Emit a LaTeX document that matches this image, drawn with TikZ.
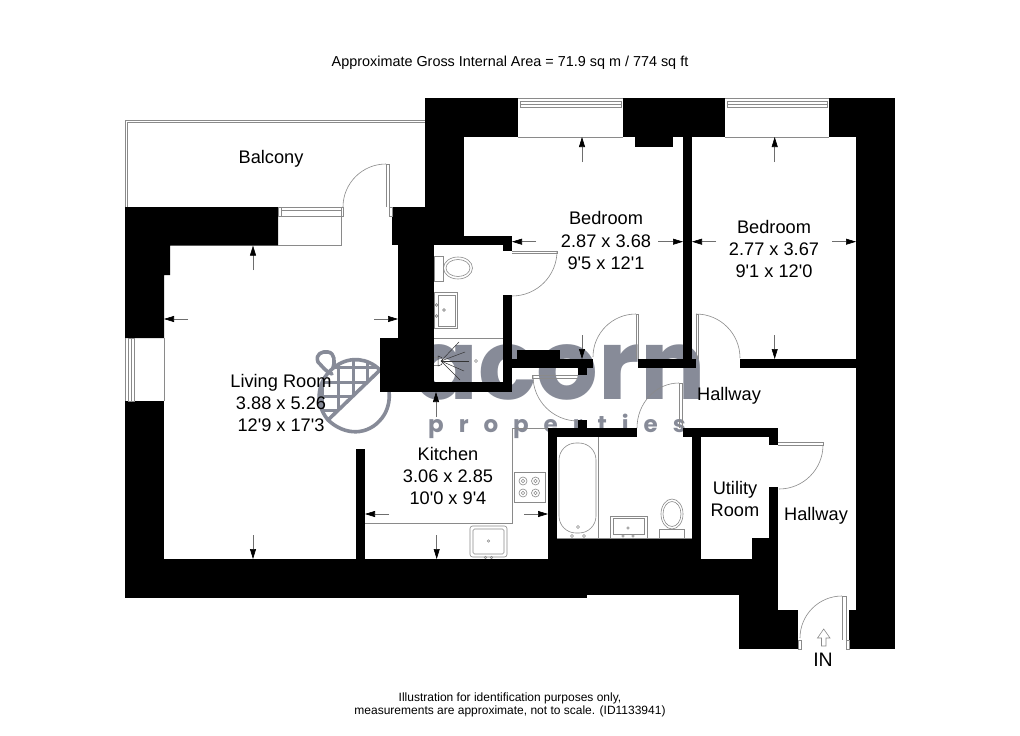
\documentclass[tikz,border=0pt]{standalone}
\usepackage{fontspec}
\setmainfont{Liberation Sans}[Ligatures=TeXOff]
\newfontfamily\logofont{Poppins}
\usetikzlibrary{arrows.meta}
\definecolor{logogrey}{HTML}{878B98}
\definecolor{fixgrey}{HTML}{8A8A8A}
\tikzset{
  wall/.style={fill=black,draw=none},
  fine/.style={draw=fixgrey,line width=0.8pt},
  thinline/.style={draw=fixgrey,line width=0.6pt},
  dark/.style={draw=black!80,line width=0.5pt},
  dimarrow/.style={draw=fixgrey!80!black,line width=0.6pt,-{Triangle[length=10pt,width=6pt,color=black]}},
  roomlabel/.style={align=center,font=\fontsize{18.2}{22.4}\selectfont,inner sep=0pt},
  smalllabel/.style={align=center,font=\fontsize{14.4}{15}\selectfont,inner sep=0pt},
  logostroke/.style={draw=logogrey,line width=3.6pt,line join=round,line cap=round}
}
\begin{document}
\begin{tikzpicture}[x=1pt,y=-1pt]
\useasboundingbox (0,0) rectangle (1020,736);
\fill[white] (0,0) rectangle (1020,736);

% --- logo (beneath everything)
\path[logostroke] (328,420) .. controls (313,402) and (318,378) .. (336,366) .. controls (350,356) and (368,358) .. (380,370) -- cycle;
\begin{scope}
  \clip (328,420) .. controls (313,402) and (318,378) .. (336,366) .. controls (350,356) and (368,358) .. (380,370) -- cycle;
  \foreach \lx in {322,338,353,367}{\draw[logostroke,line width=3pt] (\lx,350) -- (\lx,425);}
  \foreach \ly in {367,382,396,410}{\draw[logostroke,line width=3pt] (310,\ly) -- (385,\ly);}
\end{scope}
\path[logostroke] (380,370) .. controls (392,385) and (392,405) .. (382,418) .. controls (368,436) and (345,436) .. (328,420);
\path[logostroke] (332,374) .. controls (326,372) and (322,366) .. (318,362) .. controls (315,354) and (322,351) .. (328,352) .. controls (335,353) and (335,362) .. (333,368);
\node[text=logogrey,anchor=base west,inner sep=0pt] (logoword) at (412,399)
  {\logofont\bfseries\fontsize{97}{97}\selectfont acorn};
\node[text=logogrey,anchor=base west,inner sep=0pt] (logosub) at (428,432)
  {\logofont\bfseries\addfontfeature{LetterSpace=65}\fontsize{23}{23}\selectfont properties};

% --- walls
\fill[wall] (125,207) -- (278,207) -- (278,245.6) -- (170,245.6) -- (170,275) -- (164,275) -- (164,338) -- (125,338) -- cycle;
\fill[wall] (125,401) rectangle (164,559);
\fill[wall] (125,559) rectangle (587,598);
\fill[wall] (587,559) rectangle (778,595);
\fill[wall] (739,595) rectangle (778,610);
\fill[wall] (739,610) rectangle (798,649);
\fill[wall] (769,487) rectangle (778,559);
\fill[wall] (752,538) rectangle (769,559);
\fill[wall] (692,428) rectangle (701,559);
\fill[wall] (548,428) rectangle (557,559);
\fill[wall] (548,538) rectangle (701,559);
\fill[wall] (548,428) rectangle (637,437);
\fill[wall] (578,420) rectangle (587,428);
\fill[wall] (683,428) rectangle (778,437);
\fill[wall] (769,437) rectangle (778,445);
\fill[wall] (380,338) rectangle (434,392);
\fill[wall] (398,245) rectangle (434,338);
\fill[wall] (392,207) rectangle (464,245);
\fill[wall] (425,98) rectangle (464,207);
\fill[wall] (425,98) rectangle (518,137);
\fill[wall] (464,236) rectangle (512,245);
\fill[wall] (503,245) rectangle (512,251);
\fill[wall] (503,295) rectangle (512,392);
\fill[wall] (434,382) rectangle (512,392);
\fill[wall] (623,98) rectangle (725,137);
\fill[wall] (635,137) rectangle (673,147);
\fill[wall] (829,98) rectangle (895,137);
\fill[wall] (683,137) rectangle (692,368);
\fill[wall] (856,137) rectangle (895,610);
\fill[wall] (849,610) rectangle (895,649);
\fill[wall] (512,359) rectangle (593,368);
\fill[wall] (517,350) rectangle (560,359);
\fill[wall] (578,368) rectangle (587,375);
\fill[wall] (638,359) rectangle (696,368);
\fill[wall] (740,359) rectangle (856,368);
\fill[wall] (356,449) rectangle (365,559);

% --- balcony rail
\draw[fine] (125,207) -- (125,120) -- (425,120);
\draw[fine] (127.5,207) -- (127.5,122.5) -- (425,122.5);

% --- windows
\draw[fine] (518,98) -- (623,98);
\draw[thinline] (520,101) rectangle (621,107) (520,104) -- (621,104);
\draw[fine] (518,137) -- (623,137);
\draw[fine] (725,98) -- (829,98);
\draw[thinline] (727,101) rectangle (827,107) (727,104) -- (827,104);
\draw[fine] (725,137) -- (829,137);
\draw[fine] (125,338) -- (125,401) (164,338) -- (164,401);
\draw[thinline] (128,338) rectangle (134,401) (131,338) -- (131,401);
\draw[fine] (278,207) -- (343,207) (278,245.6) -- (341,245.6) -- (341,207);
\draw[thinline] (278,207) rectangle (343,216) (281,210) -- (341,210) (281,207) -- (281,216);

% --- doors
\draw[thinline] (386,207) -- (386,164) -- (389,164) -- (389,207) (389,207) rectangle (392,216);
\draw[thinline] (386,164) arc[start angle=-90,end angle=-180,radius=43];
\draw[thinline] (512,251) -- (557,251) -- (557,253) -- (512,253);
\draw[thinline] (557,251) arc[start angle=0,end angle=90,radius=45];
\draw[thinline] (636,359) -- (636,314) -- (638,314) -- (638,359);
\draw[thinline] (636,314) arc[start angle=-90,end angle=-180,radius=43];
\draw[thinline] (696,359) -- (696,314) -- (698,314) -- (698,359);
\draw[thinline] (696,314) arc[start angle=-90,end angle=0,radius=44];
\draw[thinline] (578,375) -- (532,375) -- (532,378) -- (578,378);
\draw[thinline] (533,376) arc[start angle=180,end angle=90,radius=45];
\draw[thinline] (682,428) -- (682,383) -- (679,383) -- (679,428);
\draw[thinline] (679,383) arc[start angle=-90,end angle=-180,x radius=42,y radius=45];
\draw[thinline] (778,442) -- (823,442) -- (823,445) -- (778,445);
\draw[thinline] (823,445) arc[start angle=0,end angle=90,radius=44];
\draw[thinline] (846,640) -- (846,596) -- (842,596) -- (842,640);
\draw[thinline] (842,596) arc[start angle=-90,end angle=-180,radius=42];
\draw[thinline] (798,640) rectangle (801,649);
\draw[thinline] (846,640) rectangle (849,649);
\draw[thinline] (817.5,638) -- (823.7,629) -- (830,638) -- (826,638) -- (826,646) -- (821.5,646) -- (821.5,638) -- cycle;

% --- en-suite fixtures
\draw[thinline] (434,338) -- (503,338);
\draw[thinline] (434,256) rectangle (443,281);
\draw[thinline] (458,268) ellipse[x radius=14.5,y radius=11];
\draw[thinline] (458,268) ellipse[x radius=12,y radius=8.5];
\draw[thinline] (434,292) rectangle (457,328);
\draw[thinline] (438,295) rectangle (455,326);
\draw[thinline] (436.5,305) circle[radius=1.4] (436.5,316) circle[radius=1.4] (444,310) circle[radius=1.4];
\draw[thinline] (476,361) circle[radius=1.5];
\draw[thinline] (434,357) -- (438,357) (434,365) -- (438,365);
\draw[dark] (438,356) arc[start angle=-90,end angle=90,radius=5] -- cycle;
\foreach \rx/\ry in {459/342,465/352,469/361,464/371,460/380}{\draw[dark] (441,361) -- (\rx,\ry);}

% --- kitchen
\draw[fine] (548,428) -- (512,428) -- (512,523) -- (365,523);
\draw[thinline] (514,472) rectangle (545,502);
\foreach \bx/\by in {523/481,535.5/481,523/493,535.5/493}{
  \draw[thinline] (\bx,\by) circle[radius=4] (\bx,\by) circle[radius=1.8];}
\draw[thinline,rounded corners=2.5pt] (470,526) rectangle (507,557);
\draw[thinline,rounded corners=1.5pt] (473,529) rectangle (504,554);
\draw[thinline] (488.5,541) circle[radius=1.3] (485.5,557.5) circle[radius=1.2] (491.5,557.5) circle[radius=1.2];

% --- bathroom
\draw[fine] (557,538) -- (692,538);
\draw[thinline] (598,437) -- (598,538);
\draw[thinline,rounded corners=17pt] (559,443) rectangle (596,533);
\draw[thinline] (578,527) circle[radius=1.5] (572,536) circle[radius=1.5] (584,536) circle[radius=1.5];
\draw[thinline] (610,516) rectangle (647,538);
\draw[thinline] (613,518) rectangle (644,534);
\draw[thinline] (628,528) circle[radius=1.2] (623,536) circle[radius=1.2] (633,536) circle[radius=1.2];
\draw[thinline] (659,529) rectangle (684,538);
\draw[thinline] (672,514) ellipse[x radius=11,y radius=15];
\draw[thinline] (672,514) ellipse[x radius=9,y radius=12.5];

% --- dimension arrows
\foreach \ax/\ay/\bx/\by in {
  582/162/582/137, 536/241.7/512/241.7, 658/241.7/683/241.7, 582/335/582/359,
  716/241.7/692/241.7, 832/241.7/856/241.7, 774.7/162/774.7/137, 774.7/335/774.7/359,
  253/270/253/245.6, 188/319/164/319, 374/319/398/319, 253/535/253/559,
  389/514/365/514, 524/514/548/514, 436/417/436/392, 436.7/535/436.7/559}{
  \draw[dimarrow] (\ax,\ay) -- (\bx,\by);
}

% --- labels
\node[smalllabel] (title) at (510,63) {Approximate Gross Internal Area = 71.9 sq m / 774 sq ft};
\node[roomlabel] (balcony) at (271,158.5) {Balcony};
\node[roomlabel] (living) at (281,403) {Living Room\\3.88 x 5.26\\12'9 x 17'3};
\node[roomlabel] (bed1) at (606,240.5) {Bedroom\\2.87 x 3.68\\9'5 x 12'1};
\node[roomlabel] (bed2) at (774,249) {Bedroom\\2.77 x 3.67\\9'1 x 12'0};
\node[roomlabel] (kitchen) at (448,476) {Kitchen\\3.06 x 2.85\\10'0 x 9'4};
\node[roomlabel] (hall1) at (729,396) {Hallway};
\node[roomlabel] (hall2) at (816,516) {Hallway};
\node[roomlabel] (utility) at (735,499) {Utility\\Room};
\node[roomlabel,font=\fontsize{19.5}{20}\selectfont] (in) at (823,660) {IN};
\node[smalllabel,font=\fontsize{12}{13}\selectfont] (foot) at (510,704.5) {Illustration for identification purposes only,\\measurements are approximate, not to scale. (ID1133941)};
\end{tikzpicture}
\end{document}
